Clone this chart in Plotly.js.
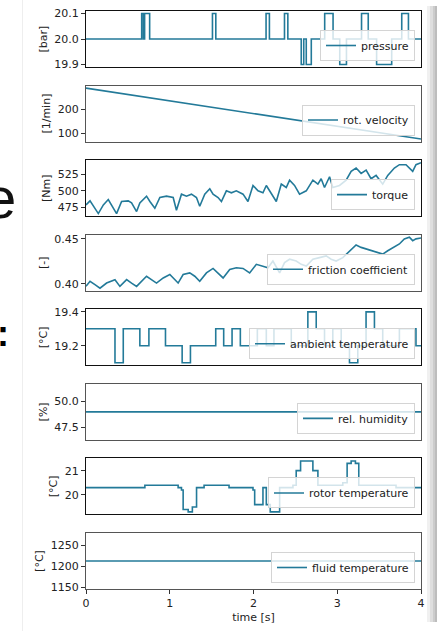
<!DOCTYPE html>
<html><head><meta charset="utf-8">
<script src="https://cdn.plot.ly/plotly-3.0.1.min.js"></script>
<style>html,body{margin:0;padding:0;background:#fff;overflow:hidden}#chart{width:437px;height:631px}</style>
</head><body><div id="chart"></div>
<script>
// ---------------- data ----------------
const pressureTime = [0,0.665,0.685,0.70,0.76,1.51,1.55,2.15,2.19,2.37,2.41,2.57,2.60,2.63,2.69,2.85,2.95,3.03,3.11,3.29,3.37,3.47,3.65,3.77,3.85,4.0];
const pressure     = [20.0,20.1,20.0,20.1,20.0,20.1,20.0,20.1,20.0,20.1,20.0,19.9,20.0,19.9,20.0,20.1,20.0,19.9,20.0,20.1,20.0,19.9,20.0,20.1,20.0,20.0];

const velocityTime = [0,1,2,3,4];
const velocity     = [286,234,181,129,77];

const torqueTime = [0,0.048,0.147,0.207,0.266,0.306,0.365,0.425,0.504,0.544,0.604,0.643,0.723,0.763,0.822,0.882,0.961,1.041,1.080,1.140,1.200,1.259,1.319,1.358,1.418,1.478,1.517,1.577,1.617,1.676,1.736,1.795,1.875,1.934,1.994,2.054,2.113,2.153,2.212,2.272,2.332,2.391,2.431,2.490,2.550,2.630,2.709,2.769,2.808,2.848,2.908,2.947,3.027,3.106,3.166,3.225,3.285,3.345,3.404,3.464,3.543,3.603,3.682,3.742,3.821,3.901,3.940,4.0];
const torque     = [479,485,466,479,487,479,466,484,485,482,469,482,492,484,474,490,492,490,471,495,492,495,490,477,495,503,495,490,484,500,497,500,495,484,508,500,497,508,497,484,510,505,516,508,495,500,516,510,518,505,521,505,508,516,529,534,526,531,518,523,510,523,534,539,539,529,539,542];

const frictionTime = [0,0.048,0.107,0.167,0.246,0.346,0.405,0.485,0.544,0.604,0.723,0.783,0.842,0.922,1.001,1.100,1.160,1.239,1.299,1.358,1.438,1.517,1.577,1.637,1.716,1.795,1.875,1.954,2.034,2.113,2.173,2.232,2.312,2.371,2.431,2.510,2.570,2.630,2.709,2.788,2.868,2.927,2.987,3.066,3.146,3.225,3.285,3.344,3.404,3.464,3.543,3.603,3.682,3.742,3.801,3.861,3.901,3.940,4.0];
const friction     = [0.397,0.4026,0.3989,0.395,0.4007,0.4045,0.397,0.4045,0.4007,0.397,0.4083,0.4045,0.4007,0.4064,0.4102,0.4007,0.4102,0.412,0.4083,0.4026,0.412,0.417,0.412,0.4064,0.4159,0.4177,0.417,0.412,0.4216,0.4197,0.4177,0.4253,0.412,0.4235,0.4273,0.4253,0.4216,0.4197,0.4273,0.4291,0.431,0.4273,0.4253,0.4291,0.4367,0.4432,0.4405,0.4386,0.4367,0.4348,0.433,0.4367,0.4405,0.4443,0.45,0.4518,0.448,0.45,0.451];

const ambientTime = [0,0.346,0.445,0.643,0.751,0.949,1.148,1.247,1.549,1.644,1.744,1.843,2.046,2.153,2.244,2.451,2.649,2.749,2.848,2.947,3.047,3.146,3.245,3.344,3.444,3.543,3.742,3.940,4.0];
const ambientTemp = [19.3,19.1,19.3,19.2,19.3,19.2,19.1,19.2,19.3,19.2,19.3,19.2,19.3,19.2,19.3,19.2,19.4,19.3,19.2,19.3,19.2,19.1,19.2,19.4,19.3,19.2,19.3,19.2,19.2];

const humidityTime = [0,4];
const humidity     = [49.0,49.0];

const rotorTime = [0,0.703,1.10,1.14,1.16,1.22,1.27,1.32,1.41,1.708,1.994,2.014,2.113,2.153,2.20,2.312,2.471,2.51,2.562,2.709,2.769,3.066,3.118,3.166,3.217,3.257,3.702,4.0];
const rotorTemp = [20.3,20.4,20.3,20.2,19.4,19.3,19.5,20.3,20.4,20.3,20.2,19.6,20.3,19.6,19.3,20.3,20.4,21.0,21.4,21.0,20.4,20.5,21.3,21.4,21.3,20.4,20.3,20.3];

const fluidTime = [0,4];
const fluidTemp = [1212,1212];

const seriesNames = ["pressure","rot. velocity","torque","friction coefficient","ambient temperature","rel. humidity","rotor temperature","fluid temperature"];
const unitLabels  = ["[bar]","[1/min]","[Nm]","[-]","[°C]","[%]","[°C]","[°C]"];
const tickValues  = [[19.9,20.0,20.1],[100,200],[475,500,525],[0.40,0.45],[19.2,19.4],[47.5,50.0],[20,21],[1150,1200,1250]];
const tickFormats = [".1f","d","d",".2f",".1f",".1f","d","d"];
const xTicks = [0,1,2,3,4];
const xLabel = "time [s]";

// ---------------- layout & drawing ----------------
const W=437,H=631,ML=86,MR=16,MT=11,MB=42;
const PW=W-ML-MR, PH=H-MT-MB;
const px=x=>(x-ML)/PW, py=y=>1-(y-MT)/PH;
const N=8, panelH=56, gapH=(PH-N*panelH)/(N-1);
const color='#237a99';
const font={family:'DejaVu Sans, sans-serif',size:11,color:'#222'};

const xs=[pressureTime,velocityTime,torqueTime,frictionTime,ambientTime,humidityTime,rotorTime,fluidTime];
const ys=[pressure,velocity,torque,friction,ambientTemp,humidity,rotorTemp,fluidTemp];
const shapes=['hv','linear','linear','linear','hv','linear','hv','linear'];

function mplRange(v){
  let lo=Math.min(...v), hi=Math.max(...v);
  if(hi-lo<1e-12){ const d=Math.abs(lo)*0.05; lo-=d; hi+=d; }
  const m=(hi-lo)*0.05; return [lo-m,hi+m];
}

const traces=[]; const layout={
  width:W,height:H,margin:{l:ML,r:MR,t:MT,b:MB,pad:0},
  paper_bgcolor:'#fff',plot_bgcolor:'#fff',font:font,showlegend:true,
  shapes:[],annotations:[]
};
for(let k=0;k<N;k++){
  const s=k?String(k+1):'';
  const top=PH-k*(panelH+gapH);
  const dom=[(top-panelH)/PH, top/PH];
  const lineCol = (k%2===0)?'#111':'#555';
  traces.push({x:xs[k],y:ys[k],type:'scatter',mode:'lines',name:seriesNames[k],
    line:{color:color,width:1.6,shape:shapes[k]},xaxis:'x'+s,yaxis:'y'+s,
    legend:'legend'+s,showlegend:true,hoverinfo:'skip'});
  const last=(k===N-1);
  layout['xaxis'+s]={domain:[0,1],anchor:'y'+s,range:[0,4],showgrid:false,zeroline:false,
    showline:true,mirror:true,linecolor:lineCol,linewidth:1,
    tickvals:last?xTicks:[],ticks:last?'outside':'',ticklen:4,tickcolor:'#333',
    showticklabels:last,tickfont:font,
    title:last?{text:xLabel,font:font,standoff:4}:{text:''}};
  layout['yaxis'+s]={domain:dom,anchor:'x'+s,range:mplRange(ys[k]),showgrid:false,zeroline:false,
    showline:true,mirror:true,linecolor:lineCol,linewidth:1,
    tickvals:tickValues[k],tickformat:tickFormats[k],ticks:'outside',ticklen:4,tickcolor:'#333',
    tickfont:font,title:{text:unitLabels[k],font:font,standoff:4}};
  layout['legend'+s]={x:1-6/PW,xanchor:'right',y:dom[0]+6/PH,yanchor:'bottom',
    bgcolor:'rgba(255,255,255,0.8)',bordercolor:'#d4d4d4',borderwidth:1,font:font,
    tracegroupgap:0,itemwidth:30};
}
// slide decorations around the cropped figure
layout.shapes.push({type:'line',xref:'paper',yref:'paper',x0:px(22.5),x1:px(22.5),y0:py(0),y1:py(631),line:{color:'#eeeeee',width:1}});
[[427,430,'#f0f0f0'],[430,433,'#dedede'],[433,435,'#cccccc'],[435,437,'#bdbdbd']].forEach(r=>{
  layout.shapes.push({type:'rect',xref:'paper',yref:'paper',x0:px(r[0]),x1:px(r[1]),y0:py(622),y1:py(6),fillcolor:r[2],line:{width:0},layer:'below'});
});
layout.annotations.push({text:'e',xref:'paper',yref:'paper',x:px(18),y:py(198),xanchor:'right',yanchor:'middle',showarrow:false,font:{family:'Liberation Sans, Arial',size:58,color:'#111'}});
layout.annotations.push({text:'<b>:</b>',xref:'paper',yref:'paper',x:px(-5),y:py(333),xanchor:'left',yanchor:'middle',showarrow:false,font:{family:'Liberation Sans, Arial',size:36,color:'#000'}});

Plotly.newPlot('chart',traces,layout,{staticPlot:true,displayModeBar:false});
</script></body></html>
